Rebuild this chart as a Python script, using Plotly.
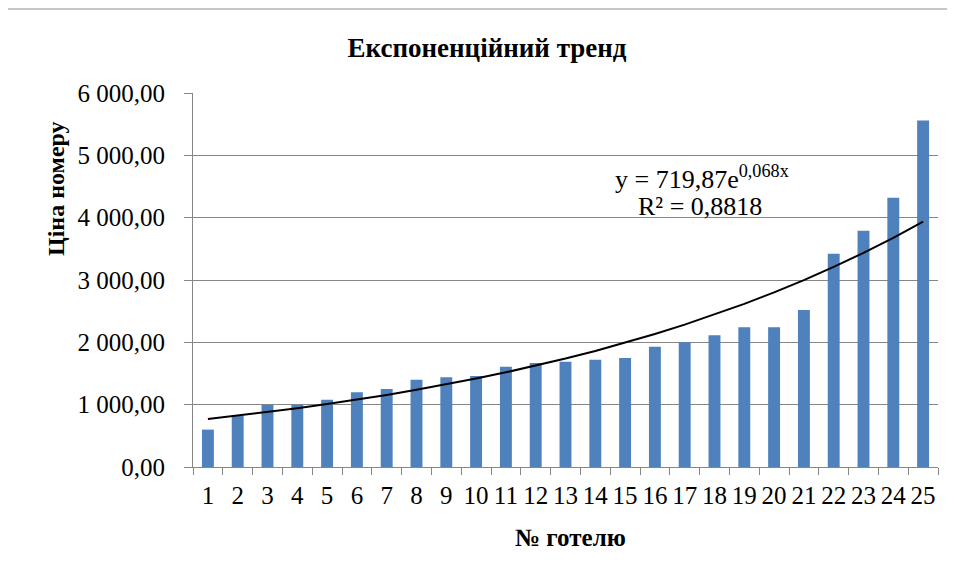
import numpy as np
import plotly.graph_objects as go

hotels = [str(i) for i in range(1, 26)]
prices = [600, 820, 1000, 1000, 1080, 1200, 1250, 1400, 1440, 1460,
          1610, 1670, 1690, 1720, 1750, 1930, 2000, 2115, 2240, 2240,
          2520, 3420, 3790, 4320, 5560]
y_tick_vals = [0, 1000, 2000, 3000, 4000, 5000, 6000]
y_tick_text = ["0,00", "1 000,00", "2 000,00", "3 000,00", "4 000,00", "5 000,00", "6 000,00"]

chart_title = "Експоненційний тренд"
x_title = "№ готелю"
y_title = "Ціна номеру"
eq_text = "y = 719,87e<sup>0,068x</sup>"
r2_text = "R² = 0,8818"

# Exponential trend fitted to the data (log-linear least squares, as Excel does)
xn = np.arange(1, len(prices) + 1)
b, ln_a = np.polyfit(xn, np.log(prices), 1)
trend = np.exp(ln_a) * np.exp(b * xn)

FONT = "Liberation Serif, Times New Roman, serif"
GRID = "#868686"
OFF = 8  # page offset of the figure inside the browser window

PL, PT, PW, PH = 193 - OFF, 93 - OFF, 745, 374
W, H = 955, 577

fig = go.Figure()
fig.add_trace(go.Bar(x=hotels, y=prices, marker=dict(color="#4F81BD", line=dict(width=0)),
                     width=0.4, showlegend=False))
fig.add_trace(go.Scatter(x=hotels, y=trend, mode="lines",
                         line=dict(color="black", width=2), showlegend=False))

fig.update_layout(
    width=W, height=H,
    margin=dict(l=PL, r=W - PL - PW, t=PT, b=H - PT - PH, autoexpand=False),
    paper_bgcolor="white", plot_bgcolor="white",
    font=dict(family=FONT, size=25, color="black"),
    title=dict(text="<b>" + chart_title + "</b>", x=(487 - OFF) / W, xanchor="center",
               yref="container", y=1 - (48 - OFF) / H, yanchor="middle",
               font=dict(family=FONT, size=27, color="black")),
    bargap=0.6,
)
fig.update_xaxes(type="category", tickson="boundaries", ticks="outside", ticklen=7,
                 tickmode="array", tickvals=hotels, ticktext=hotels,
                 tickcolor=GRID, showline=True, linecolor=GRID, linewidth=1,
                 showgrid=False, ticklabelstandoff=6, tickangle=0, automargin=False,
                 tickfont=dict(family=FONT, size=25, color="black"))
fig.update_yaxes(range=[0, 6000], tickvals=y_tick_vals, ticktext=y_tick_text,
                 ticks="outside", ticklen=8, tickcolor=GRID, showline=True,
                 linecolor=GRID, linewidth=1, showgrid=True, gridcolor=GRID,
                 gridwidth=1, ticklabelstandoff=14, zeroline=False, automargin=False,
                 tickfont=dict(family=FONT, size=25, color="black"))


def px(x):
    return (x - 193) / PW


def py(y):
    return (467 - y) / PH


fig.add_annotation(text="<b>" + x_title + "</b>", xref="paper", yref="paper",
                   x=px(570), y=py(537), showarrow=False,
                   xanchor="center", yanchor="middle",
                   font=dict(family=FONT, size=25, color="black"))
fig.add_annotation(text="<b>" + y_title + "</b>", xref="paper", yref="paper",
                   x=px(56), y=py(189), showarrow=False,
                   textangle=-90, xanchor="center", yanchor="middle",
                   font=dict(family=FONT, size=24, color="black"))
fig.add_annotation(text=eq_text, xref="paper", yref="paper",
                   x=px(702), y=py(177), showarrow=False,
                   xanchor="center", yanchor="middle",
                   font=dict(family=FONT, size=26, color="black"))
fig.add_annotation(text=r2_text, xref="paper", yref="paper",
                   x=px(700), y=py(206), showarrow=False,
                   xanchor="center", yanchor="middle",
                   font=dict(family=FONT, size=26, color="black"))

fig.add_shape(type="rect", xref="paper", yref="paper",
              x0=px(3), x1=1.2, y0=-0.6, y1=py(9),
              line=dict(color="#8c8c8c", width=1), fillcolor="rgba(0,0,0,0)", layer="below")

fig.write_html("out.html")
